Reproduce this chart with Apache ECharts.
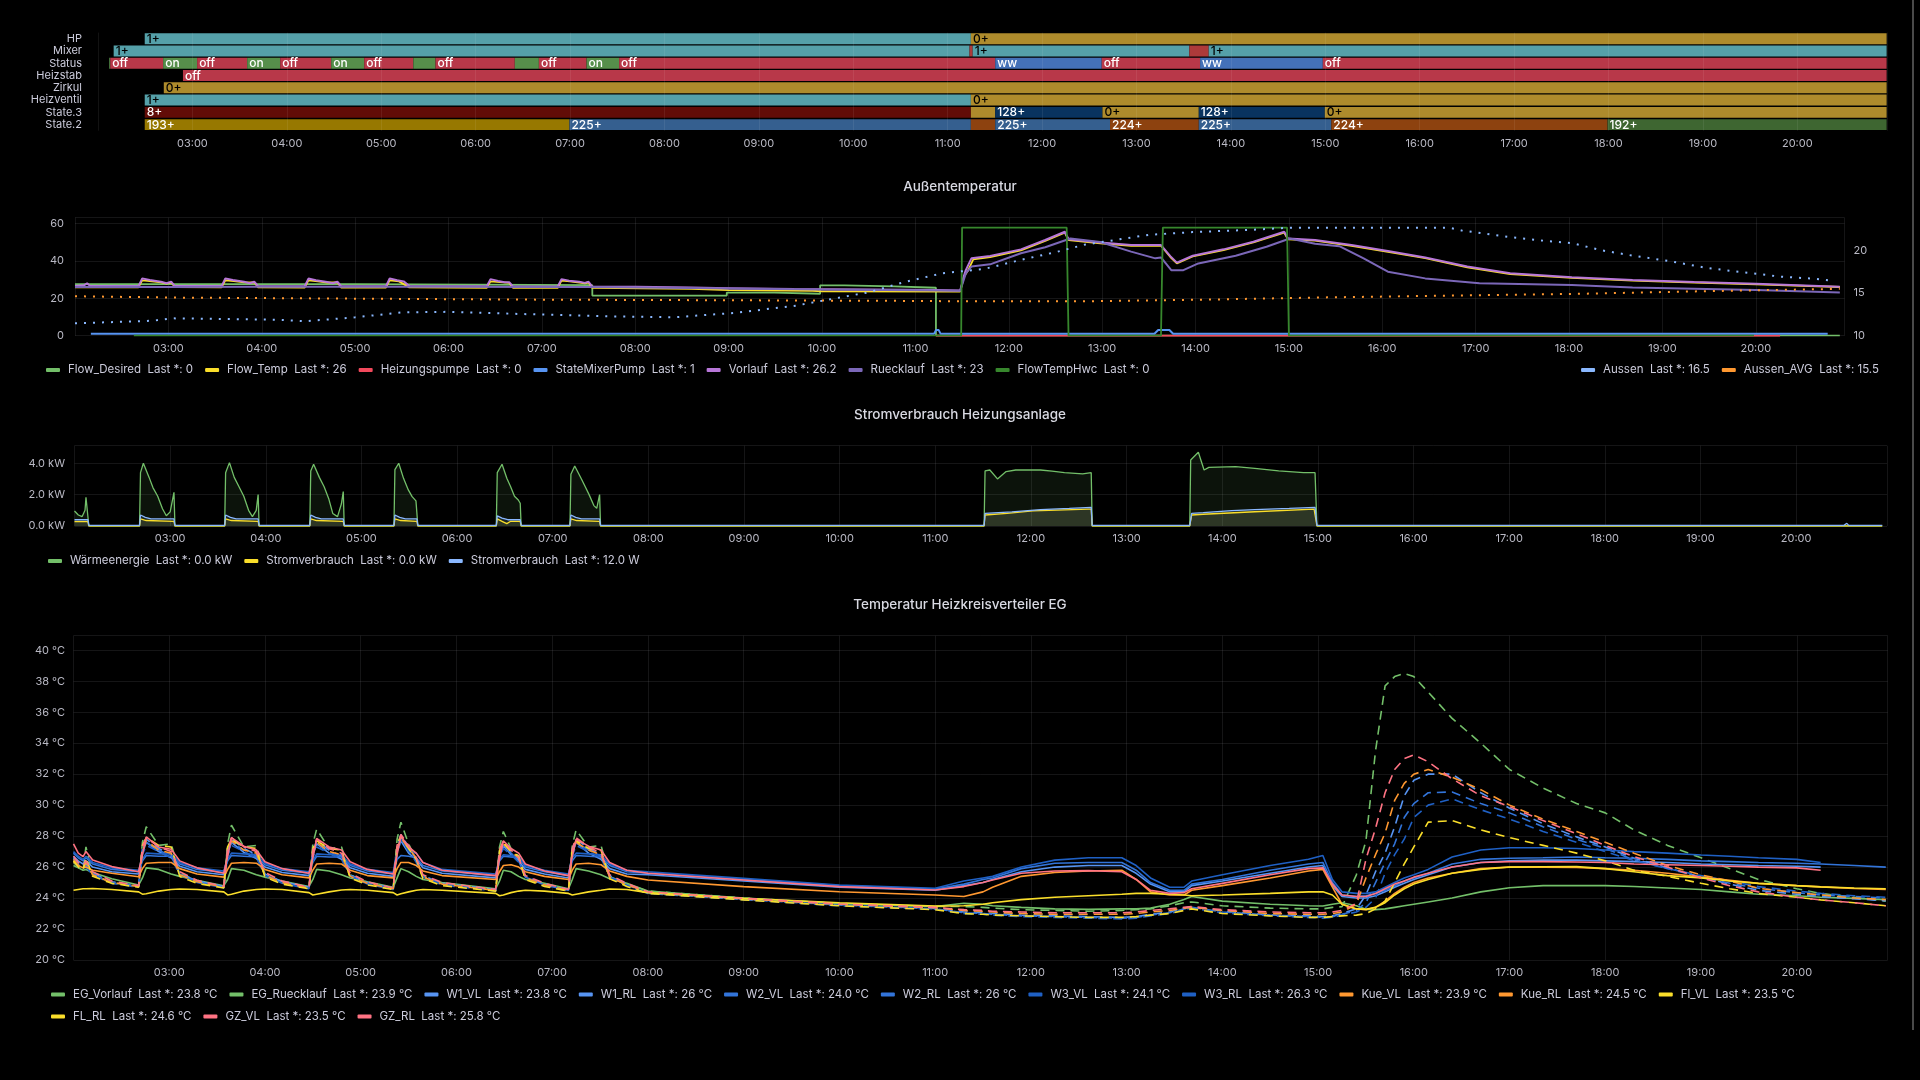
<!DOCTYPE html>
<html><head><meta charset="utf-8">
<script src="https://cdn.jsdelivr.net/npm/echarts@6/dist/echarts.min.js"></script>
<style>html,body{margin:0;padding:0;background:#000;overflow:hidden}#c{width:1920px;height:1080px}</style>
</head><body><div id="c"></div>
<script>
// ---------------- DATA ----------------
// time values are hours of the day (decimal)
const tlRows = ['HP','Mixer','Status','Heizstab','Zirkul','Heizventil','State.3','State.2'];
const hpSegs = [[2.495,11.246,'1+'],[11.246,20.946,'0+']];
const mixerSegs = [[2.166,11.232,'1+'],[11.232,11.265,'2+'],[11.265,13.56,'1+'],[13.56,13.765,'2+'],[13.765,20.946,'1+']];
const statusSegs = [[2.119,2.13,'on'],[2.13,2.69,'off'],[2.69,3.05,'on'],[3.05,3.58,'off'],[3.58,3.93,'on'],[3.93,4.47,'off'],[4.47,4.82,'on'],[4.82,5.34,'off'],[5.34,5.575,'on'],[5.575,6.415,'off'],[6.415,6.67,'on'],[6.67,7.175,'off'],[7.175,7.52,'on'],[7.52,11.504,'off'],[11.504,12.632,'ww'],[12.632,13.674,'off'],[13.674,14.974,'ww'],[14.974,20.946,'off']];
const heizstabSegs = [[2.90,20.946,'off']];
const zirkulSegs = [[2.697,20.946,'0+']];
const heizventilSegs = [[2.495,11.246,'1+'],[11.246,20.946,'0+']];
const state3Segs = [[2.495,11.246,'8+'],[11.246,11.504,'0+'],[11.504,12.64,'128+'],[12.64,13.66,'0+'],[13.66,14.995,'128+'],[14.995,20.946,'0+']];
const state2Segs = [[2.495,6.994,'193+'],[6.994,11.246,'225+'],[11.246,11.504,'224+'],[11.504,12.72,'225+'],[12.72,13.66,'224+'],[13.66,15.064,'225+'],[15.064,17.99,'224+'],[17.99,20.946,'192+']];

// Außentemperatur (left axis)
const flowDesiredT = [2.0,5.0,7.54,8.98,9.49,9.98,10.24,10.77,11.22,20.9];
const flowDesiredV = [27.5,27.0,21.4,23.0,22.4,26.9,26.3,25.6,0,0];
const flowTempT = [2.0,2.68,2.72,2.8,2.92,2.98,3.03,3.07,3.57,3.61,3.7,3.81,3.92,3.96,4.46,4.5,4.6,4.7,4.81,4.85,5.33,5.37,5.47,5.58,6.41,6.45,6.55,6.65,6.69,7.17,7.21,7.3,7.46,7.5,7.54,8.6,9.0,9.9,10.0,11.48,11.52,11.56,11.62,11.8,12.13,12.39,12.6,12.64,12.98,13.31,13.63,13.73,13.8,13.97,14.3,14.62,14.95,14.99,15.28,15.67,16.06,16.46,16.91,17.37,18.03,18.68,19.34,20.0,20.9];
const flowTempV = [25.8,25.8,29.5,29.2,28.5,27.8,28.4,25.9,25.8,29.6,29.2,28.5,28.4,25.8,25.7,29.5,29.0,28.4,28.4,25.7,25.7,29.6,29.0,25.8,25.6,29.0,28.6,28.2,25.6,25.6,29.4,29.0,28.0,28.4,25.5,25.0,24.3,24.0,23.7,23.6,31.5,34.5,40.8,42.0,45.6,50.6,55.0,51.0,49.3,48.0,48.0,42.0,38.6,42.3,45.7,49.8,55.0,51.5,50.8,48.0,44.8,41.4,36.5,32.9,30.9,29.4,28.4,27.4,26.0];
const heizPumpeT = [11.22,20.26];
const heizPumpeV = [0,0];
const mixerPumpT = [2.17,11.2,11.22,11.25,11.27,13.56,13.6,13.72,13.76,20.77];
const mixerPumpV = [1,1,3,3,1,1,3,3,1,1];
const vorlaufT = [2.0,2.1,2.13,2.16,2.68,2.72,2.8,2.92,2.98,3.03,3.07,3.57,3.61,3.69,3.81,3.87,3.92,3.96,4.46,4.5,4.58,4.7,4.76,4.81,4.85,5.33,5.37,5.45,5.52,5.58,6.41,6.45,6.53,6.6,6.65,6.69,7.17,7.21,7.29,7.4,7.46,7.5,7.54,8.0,8.6,9.0,9.7,10.5,11.22,11.48,11.52,11.54,11.6,11.8,12.13,12.39,12.6,12.64,12.98,13.31,13.63,13.73,13.8,13.97,14.3,14.62,14.95,14.99,15.28,15.67,16.06,16.46,16.91,17.37,18.03,18.68,19.34,20.0,20.9];
const vorlaufV = [26.6,27.0,28.0,26.6,26.5,30.6,29.7,28.8,28.0,28.8,26.5,26.5,30.6,29.7,28.8,28.0,28.8,26.5,26.4,30.5,29.6,28.7,28.0,28.8,26.4,26.4,30.6,29.6,29.0,26.5,26.4,30.2,29.2,28.5,28.6,26.3,26.3,30.2,29.4,28.8,28.2,28.8,26.2,26.1,25.7,25.4,24.9,24.6,24.4,24.1,32.0,35.0,41.3,42.5,46.1,51.1,55.5,51.5,49.7,48.4,48.4,42.5,39.0,42.7,46.1,50.2,55.5,51.9,51.1,48.4,45.2,41.8,36.9,33.3,31.2,29.7,28.7,27.8,26.2];
const ruecklaufT = [2.0,2.5,3.0,4.0,5.0,6.0,7.0,7.5,8.0,8.6,9.0,10.0,11.0,11.48,11.54,11.6,11.8,12.13,12.39,12.66,12.98,13.31,13.57,13.63,13.74,13.87,14.03,14.43,14.76,15.01,15.28,15.54,15.8,16.06,16.46,17.04,18.03,18.68,20.0,20.9];
const ruecklaufV = [26.0,26.1,26.0,26.2,26.1,26.1,26.0,26.0,25.8,25.5,25.2,24.6,24.3,24.0,33.3,36.9,38.1,44.0,47.2,51.9,50.0,44.9,41.3,41.8,35.0,35.0,38.6,42.7,47.5,51.9,49.1,47.8,41.3,34.2,30.6,28.0,27.1,25.8,24.4,23.0];
const hwcT = [2.63,11.49,11.5,12.62,12.64,13.63,13.65,14.98,15.0,19.98];
const hwcV = [0,0,57.7,57.7,0,0,57.7,57.7,0,0];
// Außentemperatur (right axis)
const aussenT = [2.0,2.84,3.03,4.15,4.47,5.0,5.52,5.98,6.77,7.75,8.41,9.06,9.72,10.1,10.5,10.9,11.29,11.74,12.13,12.5,12.82,13.15,13.5,13.97,14.6,15.0,16.72,16.85,17.11,17.37,17.7,18.03,18.36,18.68,19.08,19.47,19.86,20.26,20.65,20.78];
const aussenV = [11.45,11.76,12.04,11.88,11.7,12.16,12.75,12.8,12.55,12.27,12.16,12.67,13.53,14.3,15.1,16.35,17.33,17.84,18.9,19.8,20.7,21.25,21.84,22.16,22.43,22.67,22.67,22.35,21.96,21.57,21.18,20.86,20.0,19.4,18.75,17.96,17.45,16.94,16.67,16.5];
const aussenAvgT = [2.0,3.1,5.0,7.0,9.0,11.0,11.48,12.79,14.1,15.41,16.72,18.03,19.34,20.9];
const aussenAvgV = [14.63,14.47,14.35,14.23,14.16,14.08,14.04,14.04,14.23,14.5,14.7,14.9,15.2,15.5];

// Stromverbrauch (kW)
const waermeT = [2.0,2.04,2.08,2.11,2.12,2.15, 2.68,2.69,2.72,2.78,2.82,2.87,2.92,2.96,3.0,3.04,3.05, 3.57,3.58,3.62,3.67,3.72,3.77,3.82,3.86,3.9,3.92,3.93, 4.46,4.47,4.5,4.56,4.61,4.66,4.7,4.75,4.79,4.81,4.82, 5.34,5.35,5.39,5.44,5.49,5.53,5.57,5.59, 6.41,6.42,6.47,6.52,6.56,6.6,6.64,6.66,6.67, 7.18,7.19,7.23,7.3,7.34,7.38,7.43,7.46,7.49,7.5, 11.51,11.52,11.57,11.65,11.74,11.84,12.1,12.22,12.35,12.54,12.63,12.64, 13.66,13.67,13.75,13.81,13.86,14.14,14.34,14.59,14.85,14.97,14.99,20.9];
const waermeV = [0.96,0.7,0.6,1.0,1.83,0, 0,3.4,4.0,3.1,2.45,1.9,1.1,0.65,0.9,2.15,0, 0,3.4,4.04,3.1,2.5,1.9,1.0,0.6,1.0,2.0,0, 0,3.5,3.94,3.1,2.5,1.7,0.8,0.6,1.4,2.2,0, 0,3.6,4.0,3.04,2.3,1.87,1.6,0, 0,3.4,3.94,3.04,2.5,1.9,1.66,1.45,0, 0,3.3,3.83,3.0,2.5,2.0,1.3,1.13,2.0,0, 0,3.51,3.57,3.0,3.47,3.57,3.57,3.5,3.4,3.32,3.4,0, 0,4.21,4.7,3.57,3.74,3.79,3.68,3.51,3.4,3.4,0,0];
const stromKwT = [2.0,2.14,2.15,2.68,2.69,2.75,3.04,3.05,3.57,3.58,3.64,3.92,3.93,4.46,4.47,4.53,4.81,4.82,5.34,5.35,5.41,5.58,5.59,6.41,6.42,6.47,6.52,6.56,6.66,6.67,7.18,7.19,7.25,7.49,7.5,11.51,11.52,11.75,12.02,12.6,12.63,12.64,13.66,13.68,13.8,14.34,14.96,14.99,20.9];
const stromKwV = [0.28,0.28,0,0,0.45,0.35,0.3,0,0,0.45,0.35,0.3,0,0,0.45,0.35,0.3,0,0,0.45,0.35,0.3,0,0,0.45,0.3,0.15,0.3,0.3,0,0,0.45,0.35,0.3,0,0,0.7,0.8,0.96,1.08,1.08,0,0,0.7,0.75,0.91,1.08,0,0];
const stromWT = [2.0,2.14,2.15,2.68,2.69,2.74,2.8,3.04,3.05,3.57,3.58,3.63,3.69,3.92,3.93,4.46,4.47,4.52,4.58,4.81,4.82,5.34,5.35,5.4,5.46,5.58,5.59,6.41,6.42,6.47,6.53,6.66,6.67,7.18,7.19,7.24,7.3,7.49,7.5,11.51,11.52,11.8,12.1,12.4,12.63,12.64,13.66,13.68,13.8,14.1,14.34,14.7,14.97,14.99,20.5,20.53,20.55,20.62,20.64,20.66,20.9];
const stromWV = [0.4,0.4,0.04,0.04,0.7,0.55,0.45,0.45,0.04,0.04,0.7,0.55,0.45,0.45,0.04,0.04,0.7,0.55,0.45,0.45,0.04,0.04,0.7,0.55,0.45,0.45,0.04,0.04,0.65,0.5,0.4,0.4,0.04,0.04,0.7,0.55,0.45,0.45,0.04,0.04,0.8,0.9,1.05,1.12,1.19,0.04,0.04,0.8,0.85,0.98,1.05,1.12,1.19,0.04,0.04,0.17,0.04,0.04,0.15,0.04,0.04];

// Temperatur Heizkreisverteiler EG – common time points
const egT = [2.0,2.05,2.1,2.13,2.2,2.4, 2.68,2.72,2.76,2.89,3.02,3.11,3.29, 3.57,3.61,3.65,3.78,3.91,4.00,4.18, 4.46,4.50,4.54,4.67,4.80,4.89,5.07, 5.34,5.38,5.42,5.50,5.58,5.65,5.85, 6.41,6.45,6.49,6.57,6.65,6.72,6.92, 7.17,7.21,7.25,7.38,7.51,7.60,7.78,
 8.0,9.0,10.0,11.0,11.3,11.5,11.6,11.9,12.25,12.6,12.95,13.1,13.25,13.45,13.6,13.68,14.0,14.5,14.9,15.05,15.15,15.25,15.4,15.5,15.6,15.7,15.8,15.9,16.0,16.15,16.4,16.7,17.0,17.35,17.7,18.0,18.3,18.65,19.0,19.3,19.6,20.0,20.25,20.6,20.93];
const egVorlauf = [26.3,26.0,25.8,27.3,25.5,25.0, 24.75,27.6,28.6,27.4,27.5,25.6,25.1, 24.7,27.5,28.7,27.3,27.4,25.5,25.05, 24.7,27.5,28.45,27.2,27.3,25.5,25.0, 24.65,27.8,28.9,27.5,26.5,25.4,24.95, 24.55,27.3,28.3,27.2,26.7,25.3,24.9, 24.55,27.4,28.4,27.3,27.4,25.4,24.9,
 24.45,24.0,23.65,23.45,23.45,23.4,23.35,23.25,23.2,23.15,23.2,23.25,23.3,23.5,23.7,23.75,23.5,23.35,23.3,23.3,23.4,23.44,25.5,27.7,33.5,37.7,38.3,38.5,38.3,37.3,35.6,34.0,32.3,31.1,30.1,29.5,28.4,27.4,26.6,25.9,25.2,24.6,24.3,24.05,23.8];
const egRuecklauf = [26.1,25.95,25.8,25.85,25.65,25.25, 24.84,25.3,25.95,25.85,25.55,25.4,25.15, 24.8,25.2,25.9,25.8,25.5,25.35,25.1, 24.75,25.2,25.85,25.75,25.5,25.3,25.05, 24.7,25.3,25.9,25.7,25.4,25.2,25.0, 24.6,25.1,25.8,25.7,25.4,25.2,24.95, 24.6,25.2,25.9,25.75,25.5,25.25,24.95,
 24.45,24.0,23.65,23.45,23.66,23.6,23.5,23.4,23.3,23.27,23.3,23.3,23.35,23.6,23.9,24.1,23.8,23.6,23.5,23.49,23.6,23.7,23.5,23.27,23.25,23.3,23.4,23.5,23.6,23.75,24.0,24.4,24.67,24.8,24.8,24.8,24.75,24.65,24.55,24.4,24.25,24.15,24.05,23.98,23.9];
const w1Vl = [26.6,26.2,26.0,26.2,25.6,25.05, 24.8,27.2,27.8,27.2,26.8,25.6,25.1, 24.75,27.1,27.8,27.2,26.8,25.55,25.05, 24.7,27.0,27.7,27.1,26.7,25.5,25.0, 24.65,27.3,28.1,27.3,26.5,25.45,24.95, 24.55,27.0,27.6,27.0,26.5,25.4,24.9, 24.55,27.1,27.8,27.2,26.8,25.45,24.9,
 24.35,23.95,23.58,23.35,23.1,23.05,23.0,22.9,22.85,22.8,22.75,22.8,22.95,23.1,23.35,23.45,23.15,22.9,22.85,22.8,22.85,23.0,23.3,24.2,25.7,26.9,28.6,30.6,31.6,32.0,32.0,30.8,29.8,28.8,27.95,27.3,26.57,25.95,25.35,24.9,24.5,24.25,24.1,23.95,23.83];
const w1Rl = [26.7,26.4,26.2,26.4,26.0,25.7, 25.55,26.9,27.6,27.0,26.6,26.05,25.7, 25.5,26.9,27.6,26.95,26.55,26.0,25.65, 25.45,26.8,27.5,26.9,26.5,25.95,25.6, 25.4,27.0,27.7,26.9,26.5,25.95,25.6, 25.3,26.8,27.4,26.8,26.4,25.85,25.55, 25.3,26.9,27.6,26.9,26.5,25.9,25.55,
 25.5,25.1,24.7,24.5,24.8,25.0,25.2,25.7,26.0,26.1,26.1,25.6,24.9,24.4,24.4,24.8,25.1,25.6,26.0,26.1,24.8,24.1,24.0,24.0,24.15,24.4,24.7,24.95,25.2,25.5,26.0,26.3,26.4,26.45,26.45,26.4,26.35,26.3,26.2,26.15,26.1,26.05,26.0,null,null];
const w2Vl = [26.5,26.1,25.9,26.1,25.55,25.0, 24.75,27.0,27.6,27.1,26.7,25.55,25.05, 24.7,26.9,27.6,27.1,26.7,25.5,25.0, 24.65,26.8,27.5,27.0,26.6,25.45,24.95, 24.6,27.1,27.9,27.2,26.4,25.4,24.9, 24.5,26.8,27.4,26.9,26.4,25.35,24.85, 24.5,26.9,27.6,27.1,26.7,25.4,24.85,
 24.3,23.9,23.55,23.3,23.05,23.0,22.95,22.85,22.8,22.75,22.7,22.75,22.9,23.05,23.3,23.4,23.1,22.9,22.8,22.75,22.8,22.95,23.2,23.7,25.0,26.3,27.5,29.2,30.1,30.8,30.85,30.1,29.5,28.6,27.8,27.2,26.46,25.9,25.35,24.95,24.63,24.35,24.2,24.1,24.0];
const w2Rl = [26.9,26.6,26.4,26.6,26.2,25.85, 25.7,26.4,26.75,26.7,26.7,26.2,25.85, 25.65,26.4,26.75,26.7,26.65,26.15,25.8, 25.6,26.3,26.7,26.65,26.65,26.1,25.75, 25.55,26.5,26.75,26.7,26.6,26.1,25.75, 25.45,26.4,26.7,26.65,26.6,26.0,25.7, 25.45,26.4,26.75,26.7,26.65,26.1,25.7,
 25.6,25.2,24.8,24.58,24.9,25.2,25.3,25.9,26.25,26.3,26.3,25.8,25.0,24.5,24.5,24.9,25.2,25.8,26.2,26.3,25.0,24.2,24.1,24.15,24.3,24.5,24.8,25.1,25.3,25.6,26.2,26.5,26.57,26.6,26.65,26.6,26.57,26.5,26.4,26.35,26.3,26.25,26.2,26.1,26.0];
const w3Vl = [26.4,26.0,25.85,26.0,25.5,24.95, 24.7,26.8,27.4,27.0,26.6,25.5,25.0, 24.65,26.7,27.4,27.0,26.6,25.45,24.95, 24.6,26.6,27.3,26.9,26.5,25.4,24.9, 24.55,26.9,27.7,27.1,26.3,25.35,24.85, 24.45,26.6,27.2,26.8,26.3,25.3,24.8, 24.45,26.7,27.4,27.0,26.6,25.35,24.8,
 24.3,23.9,23.5,23.28,23.0,22.95,22.9,22.8,22.75,22.7,22.65,22.7,22.85,23.0,23.25,23.35,23.05,22.85,22.75,22.7,22.75,22.9,23.1,23.4,24.0,25.6,26.8,27.8,29.2,30.0,30.4,29.7,29.1,28.3,27.6,27.0,26.42,25.9,25.45,25.1,24.74,24.45,24.3,24.15,24.05];
const w3Rl = [27.0,26.7,26.5,26.7,26.3,25.95, 25.8,26.5,26.9,26.85,26.85,26.3,25.95, 25.75,26.5,26.9,26.85,26.8,26.25,25.9, 25.7,26.4,26.85,26.8,26.8,26.2,25.85, 25.65,27.2,27.9,27.0,26.9,26.3,25.85, 25.55,26.5,26.8,26.75,26.7,26.1,25.8, 25.55,26.6,26.9,26.85,26.8,26.2,25.8,
 25.7,25.27,24.84,24.63,25.1,25.3,25.4,26.0,26.45,26.6,26.6,26.1,25.3,24.7,24.7,25.1,25.5,26.1,26.5,26.75,25.2,24.4,24.3,24.3,24.4,24.7,25.0,25.3,25.5,25.85,26.65,27.1,27.25,27.25,27.2,27.1,27.0,26.9,26.78,26.7,26.6,26.5,26.3,null,null];
const kueVl = [26.5,26.1,25.9,26.3,25.5,25.0, 24.75,27.0,27.7,27.1,26.9,25.5,25.05, 24.7,27.0,27.7,27.1,26.9,25.45,25.0, 24.65,26.9,27.6,27.0,26.8,25.4,24.95, 24.6,27.1,27.9,27.2,26.6,25.35,24.9, 24.5,26.8,27.5,27.0,26.6,25.3,24.85, 24.5,26.9,27.6,27.1,26.8,25.35,24.85,
 24.38,23.95,23.6,23.38,23.2,23.15,23.1,23.0,22.95,22.95,22.95,23.0,23.1,23.2,23.35,23.4,23.2,23.0,22.95,22.95,23.0,23.1,23.6,25.3,26.8,28.2,30.3,31.4,32.0,32.3,31.8,31.0,30.0,29.1,28.3,27.6,26.9,26.1,25.5,25.1,24.63,24.35,24.2,24.0,23.9];
const kueRl = [26.35,26.1,25.95,26.0,25.8,25.6, 25.38,25.9,26.25,26.3,26.3,25.9,25.55, 25.35,25.85,26.25,26.3,26.25,25.85,25.5, 25.3,25.8,26.2,26.25,26.2,25.8,25.45, 25.3,25.9,26.3,26.3,26.1,25.75,25.45, 25.2,25.7,26.1,26.15,26.0,25.7,25.4, 25.2,25.8,26.2,26.25,26.15,25.75,25.4,
 25.17,24.74,24.41,24.2,24.1,24.4,24.7,25.4,25.65,25.75,25.8,25.2,24.4,24.2,24.2,24.5,24.8,25.3,25.75,25.85,24.7,23.6,23.3,23.25,23.4,23.8,24.3,24.7,25.0,25.3,25.6,25.9,26.0,26.0,25.97,25.9,25.8,25.6,25.35,25.15,24.95,24.8,24.72,24.62,24.55];
const flVl = [26.4,26.0,25.8,26.6,25.4,24.95, 24.7,27.4,27.9,27.4,27.3,25.4,24.95, 24.65,27.3,27.8,27.3,27.2,25.35,24.9, 24.6,27.2,27.7,27.2,27.1,25.3,24.85, 24.55,27.5,28.0,27.2,26.5,25.25,24.8, 24.45,27.1,27.6,27.0,26.7,25.2,24.75, 24.45,27.2,27.7,27.2,27.1,25.25,24.75,
 24.3,23.88,23.5,23.25,23.0,22.95,22.9,22.85,22.8,22.75,22.75,22.8,22.9,23.0,23.2,23.3,23.0,22.85,22.75,22.75,22.8,22.85,22.9,23.0,23.3,23.8,25.0,26.2,27.3,28.9,29.0,28.4,27.9,27.4,26.9,26.4,25.8,25.4,24.95,24.6,24.3,24.05,23.88,23.7,23.5];
const flRl = [24.5,24.55,24.6,24.6,24.62,24.55, 24.4,24.25,24.28,24.45,24.55,24.58,24.55, 24.4,24.2,24.25,24.45,24.55,24.58,24.55, 24.35,24.2,24.25,24.4,24.52,24.55,24.5, 24.35,24.2,24.28,24.4,24.5,24.55,24.5, 24.3,24.15,24.2,24.35,24.45,24.5,24.45, 24.3,24.2,24.25,24.4,24.5,24.58,24.55,
 24.35,23.98,23.7,23.48,23.5,23.6,23.7,23.9,24.05,24.15,24.25,24.3,24.3,24.25,24.2,24.15,24.2,24.3,24.4,24.4,24.2,23.6,23.3,23.27,23.4,23.7,24.2,24.6,24.9,25.2,25.6,25.85,26.0,26.02,26.03,25.9,25.7,25.45,25.3,25.1,24.95,24.8,24.72,24.65,24.6];
const gzVl = [26.7,26.3,26.1,26.4,25.7,25.1, 24.8,27.3,27.9,27.3,27.0,25.7,25.15, 24.75,27.2,27.9,27.3,27.0,25.65,25.1, 24.7,27.1,27.8,27.2,26.9,25.6,25.05, 24.65,27.4,28.1,27.4,26.6,25.5,25.0, 24.55,27.1,27.7,27.1,26.6,25.45,24.95, 24.55,27.2,27.9,27.3,26.9,25.5,24.95,
 24.4,23.98,23.62,23.4,23.25,23.2,23.15,23.1,23.05,23.05,23.05,23.1,23.2,23.3,23.4,23.45,23.25,23.1,23.05,23.05,23.1,23.2,23.66,26.5,28.5,30.8,32.3,33.0,33.25,32.8,31.7,30.6,29.9,29.0,28.15,27.4,26.67,26.0,25.3,24.8,24.4,24.05,23.88,23.7,23.5];
const gzRl = [27.5,26.9,26.67,27.0,26.46,26.03, 25.7,26.8,27.95,27.3,27.15,26.4,25.95, 25.6,26.7,27.9,27.35,27.1,26.35,25.9, 25.6,26.6,27.85,27.3,27.1,26.35,25.85, 25.55,26.8,28.0,27.3,26.9,26.3,25.8, 25.45,26.5,27.7,27.2,26.9,26.2,25.75, 25.45,26.7,27.8,27.35,27.1,26.3,25.8,
 25.6,25.17,24.74,24.52,24.74,25.0,25.17,25.6,25.75,25.77,25.7,25.2,24.5,24.3,24.35,24.6,24.95,25.5,25.9,25.95,24.9,24.2,24.1,24.1,24.3,24.6,24.9,25.1,25.35,25.6,26.0,26.3,26.35,26.35,26.33,26.3,26.2,26.15,26.1,26.05,26.0,25.95,25.8,null,null];

// legend "Last *" texts
const lastAussen = {Flow_Desired:'0',Flow_Temp:'26',Heizungspumpe:'0',StateMixerPump:'1',Vorlauf:'26.2',Ruecklauf:'23',FlowTempHwc:'0',Aussen:'16.5',Aussen_AVG:'15.5'};
const lastStrom = {'Wärmeenergie':'0.0 kW',Stromverbrauch_kW:'0.0 kW',Stromverbrauch_W:'12.0 W'};
const lastEG = {EG_Vorlauf:'23.8 °C',EG_Ruecklauf:'23.9 °C',W1_VL:'23.8 °C',W1_RL:'26 °C',W2_VL:'24.0 °C',W2_RL:'26 °C',W3_VL:'24.1 °C',W3_RL:'26.3 °C',Kue_VL:'23.9 °C',Kue_RL:'24.5 °C',Fl_VL:'23.5 °C',FL_RL:'24.6 °C',GZ_VL:'23.5 °C',GZ_RL:'25.8 °C'};

// ---------------- STYLE ----------------
const F = "Inter, Roboto, 'Noto Sans', sans-serif";
const AXC = '#b9b9c4';
const TXT = '#ccccdc';
const GRIDC = 'rgba(204,204,220,0.10)';
const stateStyle = {
  '1+':{c:'#55a0a9',t:'#000'}, '0+':{c:'#ae8b2c',t:'#000'}, 'off':{c:'#b83849',t:'#fff'},
  'on':{c:'#568f4b',t:'#fff'}, 'ww':{c:'#4471b8',t:'#fff'}, '2+':{c:'#ad3a3a',t:'#fff'},
  '8+':{c:'#620c07',t:'#fff'}, '128+':{c:'#09335f',t:'#fff'}, '193+':{c:'#977800',t:'#fff'},
  '225+':{c:'#355f8f',t:'#fff'}, '224+':{c:'#8d420f',t:'#fff'}, '192+':{c:'#3e6631',t:'#fff'}
};

const pairs = (T, V) => T.map((t, i) => [t, V[i]]);
const hourLabel = v => Math.abs(v - Math.round(v)) < 1e-6 ? String(Math.round(v)).padStart(2, '0') + ':00' : '';

const segData = [], segKeys = [];
[hpSegs, mixerSegs, statusSegs, heizstabSegs, zirkulSegs, heizventilSegs, state3Segs, state2Segs].forEach((segs, r) => {
  segs.forEach(s => { segData.push([r, s[0], s[1]]); segKeys.push(s[2]); });
});

function renderSeg(params, api) {
  const row = api.value(0);
  const p0 = api.coord([api.value(1), row]);
  const p1 = api.coord([api.value(2), row]);
  const h = api.size([0, 1])[1] * 0.885;
  const key = segKeys[params.dataIndex];
  const st = stateStyle[key];
  const x = p0[0], w = p1[0] - p0[0], y = p0[1] - h / 2;
  const children = [{type: 'rect', shape: {x: x, y: y, width: w, height: h}, style: {fill: st.c}}];
  if (w >= 28) {
    children.push({type: 'text', style: {text: key, x: x + 2, y: p0[1] + 0.5, fill: st.t, font: '500 12px ' + F, align: 'left', verticalAlign: 'middle'}});
  }
  return {type: 'group', children: children};
}

function xAx(gi, margin, extra) {
  return Object.assign({
    type: 'value', gridIndex: gi, min: 2, max: 20.95, interval: 1,
    axisLine: {show: false}, axisTick: {show: false},
    axisLabel: {color: AXC, fontSize: 11, fontFamily: F, formatter: hourLabel, showMinLabel: false, showMaxLabel: false, margin: margin},
    splitLine: {show: true, lineStyle: {color: GRIDC, width: 1}}
  }, extra || {});
}
function yVal(gi, min, max, interval, fmt, margin, extra) {
  return Object.assign({
    type: 'value', gridIndex: gi, min: min, max: max, interval: interval,
    axisLine: {show: false}, axisTick: {show: false},
    axisLabel: {color: AXC, fontSize: 11, fontFamily: F, formatter: fmt, showMaxLabel: false, margin: margin},
    splitLine: {show: true, lineStyle: {color: GRIDC, width: 1}}
  }, extra || {});
}
function line(name, T, V, color, xi, yi, opts) {
  const o = opts || {};
  const s = {
    name: name, type: 'line', xAxisIndex: xi, yAxisIndex: yi, data: pairs(T, V),
    showSymbol: false, symbol: 'none', color: color, connectNulls: false,
    lineStyle: {color: color, width: o.width || 1.6, type: o.dash || 'solid'},
    emphasis: {disabled: true}, animation: false, z: 3
  };
  if (o.step) s.step = o.step;
  if (o.area) s.areaStyle = {color: color, opacity: o.area};
  return s;
}
function legend(names, pos, map, disp) {
  return Object.assign({
    data: names, icon: 'roundRect', itemWidth: 14, itemHeight: 4, itemGap: 12,
    selectedMode: false, itemStyle: {borderWidth: 0},
    textStyle: {color: TXT, fontSize: 11.5, fontFamily: F, padding: [0, 0, 0, 3]},
    formatter: n => (disp && disp[n] ? disp[n] : n) + '  Last *: ' + map[n]
  }, pos);
}

const DASH = [9, 6];
const DOT = [2, 7];

const series = [
  {type: 'custom', name: 'timeline', xAxisIndex: 0, yAxisIndex: 0, renderItem: renderSeg, data: segData, encode: {x: [1, 2], y: 0}, clip: true, z: 2, animation: false},
  line('Flow_Desired', flowDesiredT, flowDesiredV, '#73BF69', 1, 1, {step: 'end', width: 1.8}),
  line('Flow_Temp', flowTempT, flowTempV, '#FADE2A', 1, 1, {width: 1.8}),
  line('Heizungspumpe', heizPumpeT, heizPumpeV, '#F2495C', 1, 1, {width: 2}),
  line('StateMixerPump', mixerPumpT, mixerPumpV, '#5794F2', 1, 1, {width: 2}),
  line('Vorlauf', vorlaufT, vorlaufV, '#B877D9', 1, 1, {width: 2}),
  line('Ruecklauf', ruecklaufT, ruecklaufV, '#7B67B8', 1, 1, {width: 2}),
  line('FlowTempHwc', hwcT, hwcV, '#37872D', 1, 1, {width: 1.8}),
  line('Aussen', aussenT, aussenV, '#8AB8FF', 1, 2, {width: 2, dash: DOT}),
  line('Aussen_AVG', aussenAvgT, aussenAvgV, '#FF9830', 1, 2, {width: 2, dash: DOT}),
  line('Wärmeenergie', waermeT, waermeV, '#73BF69', 2, 3, {width: 1.3, area: 0.1}),
  line('Stromverbrauch_kW', stromKwT, stromKwV, '#FADE2A', 2, 3, {width: 1.3, area: 0.1}),
  line('Stromverbrauch_W', stromWT, stromWV, '#8AB8FF', 2, 3, {width: 1.3, area: 0.1}),
  line('EG_Vorlauf', egT, egVorlauf, '#73BF69', 3, 4, {dash: DASH}),
  line('EG_Ruecklauf', egT, egRuecklauf, '#73BF69', 3, 4),
  line('W1_VL', egT, w1Vl, '#5794F2', 3, 4, {dash: DASH}),
  line('W1_RL', egT, w1Rl, '#5794F2', 3, 4),
  line('W2_VL', egT, w2Vl, '#3274D9', 3, 4, {dash: DASH}),
  line('W2_RL', egT, w2Rl, '#3274D9', 3, 4),
  line('W3_VL', egT, w3Vl, '#1F60C4', 3, 4, {dash: DASH}),
  line('W3_RL', egT, w3Rl, '#1F60C4', 3, 4),
  line('Kue_VL', egT, kueVl, '#FF9830', 3, 4, {dash: DASH}),
  line('Kue_RL', egT, kueRl, '#FF9830', 3, 4),
  line('Fl_VL', egT, flVl, '#FADE2A', 3, 4, {dash: DASH}),
  line('FL_RL', egT, flRl, '#FADE2A', 3, 4),
  line('GZ_VL', egT, gzVl, '#FF7383', 3, 4, {dash: DASH}),
  line('GZ_RL', egT, gzRl, '#FF7383', 3, 4)
];

const titleStyle = {color: '#d8d9e2', fontSize: 13.5, fontWeight: 500, fontFamily: F};
const option = {
  backgroundColor: '#000',
  animation: false,
  title: [
    {text: 'Außentemperatur', left: 'center', top: 174.5, textStyle: titleStyle},
    {text: 'Stromverbrauch Heizungsanlage', left: 'center', top: 402.5, textStyle: titleStyle},
    {text: 'Temperatur Heizkreisverteiler EG', left: 'center', top: 592.5, textStyle: titleStyle}
  ],
  grid: [
    {left: 98, right: 33, top: 32.6, height: 98.1},
    {left: 75, right: 75.5, top: 217.7, height: 118},
    {left: 74.5, right: 33, top: 445.7, height: 80.3},
    {left: 73.5, right: 32.3, top: 635.7, height: 324.3}
  ],
  xAxis: [
    xAx(0, 7, {z: 10, splitLine: {show: true, lineStyle: {color: 'rgba(255,255,255,0.07)', width: 1}}}),
    xAx(1, 7),
    xAx(2, 7),
    xAx(3, 7)
  ],
  yAxis: [
    {type: 'category', gridIndex: 0, data: tlRows, inverse: true, axisLine: {show: false}, axisTick: {show: false}, splitLine: {show: false},
     axisLabel: {color: TXT, fontSize: 11, fontFamily: F, margin: 16, interval: 0}},
    yVal(1, 0, 63, 20, v => String(v), 11),
    yVal(1, 10, 23.85, 5, v => String(v), 9, {position: 'right', splitLine: {show: false}}),
    yVal(2, 0, 5.12, 2, v => v.toFixed(1) + ' kW', 9.5),
    yVal(3, 20, 40.94, 2, v => v + ' °C', 8.5)
  ],
  legend: [
    legend(['Flow_Desired','Flow_Temp','Heizungspumpe','StateMixerPump','Vorlauf','Ruecklauf','FlowTempHwc'], {left: 41, top: 359}, lastAussen),
    legend(['Aussen','Aussen_AVG'], {right: 36, top: 359}, lastAussen),
    legend(['Wärmeenergie','Stromverbrauch_kW','Stromverbrauch_W'], {left: 43, top: 550}, lastStrom, {Stromverbrauch_kW: 'Stromverbrauch', Stromverbrauch_W: 'Stromverbrauch'}),
    legend(['EG_Vorlauf','EG_Ruecklauf','W1_VL','W1_RL','W2_VL','W2_RL','W3_VL','W3_RL','Kue_VL','Kue_RL','Fl_VL'], {left: 46, top: 983.5}, lastEG),
    legend(['FL_RL','GZ_VL','GZ_RL'], {left: 46, top: 1005.5}, lastEG)
  ],
  graphic: [
    {type: 'rect', shape: {x: 1912, y: 0, width: 2, height: 1030}, style: {fill: '#4a4a4a'}, silent: true}
  ],
  series: series
};

const chart = echarts.init(document.getElementById('c'), null, {renderer: 'canvas'});
chart.setOption(option);
</script>
</body></html>
